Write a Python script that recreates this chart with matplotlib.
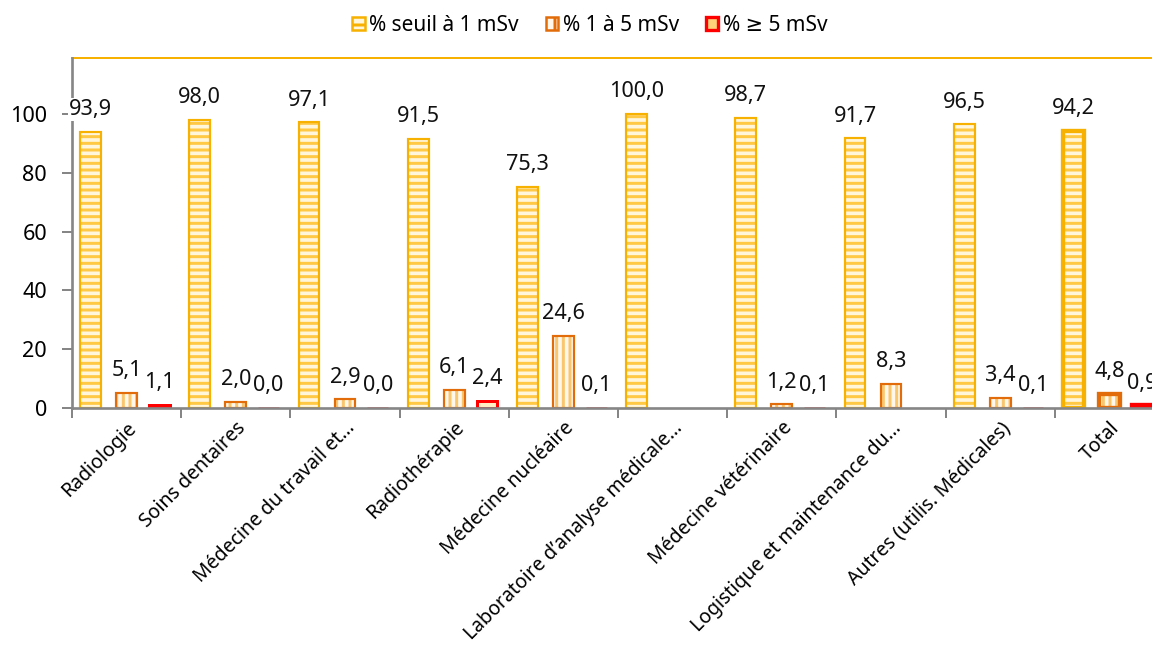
import matplotlib
matplotlib.use("Agg")
import matplotlib.pyplot as plt
from matplotlib.patches import Patch
import numpy as np

categories = ["Radiologie", "Soins dentaires", "Médecine du travail et...",
              "Radiothérapie", "Médecine nucléaire", "Laboratoire d’analyse médicale...",
              "Médecine vétérinaire", "Logistique et maintenance du...",
              "Autres (utilis. Médicales)", "Total"]
seuil_1 = [93.9, 98.0, 97.1, 91.5, 75.3, 100.0, 98.7, 91.7, 96.5, 94.2]
de_1_a_5 = [5.1, 2.0, 2.9, 6.1, 24.6, None, 1.2, 8.3, 3.4, 4.8]
sup_5 = [1.1, 0.0, 0.0, 2.4, 0.1, None, 0.1, None, 0.1, 0.9]
series_names = ["% seuil à 1 mSv", "% 1 à 5 mSv", "% ≥ 5 mSv"]
yticks = [0, 20, 40, 60, 80, 100]

plt.rcParams["font.family"] = ["Noto Sans", "DejaVu Sans"]
plt.rcParams["hatch.linewidth"] = 1.8

fig = plt.figure(figsize=(1152 / 120, 647 / 120), dpi=120)
ax = fig.add_axes([72 / 1152, 239 / 647, (1164 - 72) / 1152, 350 / 647])

x = np.arange(len(categories))
width = 0.19
offsets = [-0.33, 0.0, 0.30]
edge_cols = ["#F7B100", "#E36C0A", "#FF0000"]
stripe_cols = ["#FFC845", "#F9C66E", None]
face_cols = ["#FFF6DC", "#FFF8EA", "#FFEFC2"]
hatches = ["---", "|||", None]
all_series = [seuil_1, de_1_a_5, sup_5]

for si, vals in enumerate(all_series):
    for i, v in enumerate(vals):
        if v is None:
            continue
        xpos = x[i] + offsets[si]
        lw = 2.6 if i == len(categories) - 1 else 1.3
        if hatches[si]:
            ax.bar(xpos, v, width, facecolor=face_cols[si], edgecolor=stripe_cols[si],
                   hatch=hatches[si], linewidth=0, zorder=2)
            ax.bar(xpos, v, width, fill=False, edgecolor=edge_cols[si], linewidth=lw, zorder=3)
        else:
            ax.bar(xpos, v, width, facecolor=face_cols[si] if v > 2 else edge_cols[si],
                   edgecolor=edge_cols[si] if v > 0.5 else "#FF7070",
                   linewidth=max(lw, 1.8), zorder=3)
        ax.annotate(f"{v:.1f}".replace(".", ","), (xpos, v), xytext=(0, 7),
                    textcoords="offset points", ha="center", va="bottom",
                    fontsize=13, color="#111111", zorder=5,
                    bbox=dict(facecolor="white", edgecolor="none", pad=0.6))

ax.set_xlim(-0.5, len(categories) - 0.5)
ax.set_ylim(0, 119)
ax.set_yticks(yticks)
ax.set_yticklabels([str(t) for t in yticks], fontsize=13)
ax.tick_params(axis="y", length=6, width=1.2, color="#868686", pad=9)

ax.set_xticks(x)
ax.set_xticklabels(categories, rotation=45, ha="right", rotation_mode="anchor", fontsize=11.7)
ax.tick_params(axis="x", which="major", length=0, pad=6)
ax.set_xticks(np.arange(-0.5, len(categories), 1.0), minor=True)
ax.tick_params(axis="x", which="minor", length=6, width=1.2, color="#868686")

for s in ["left", "bottom"]:
    ax.spines[s].set_color("#868686")
    ax.spines[s].set_linewidth(1.6)
    ax.spines[s].set_zorder(4)
for s in ["top", "right"]:
    ax.spines[s].set_color("#F7B100")
    ax.spines[s].set_linewidth(1.2)

handles = [Patch(facecolor=face_cols[0], edgecolor=edge_cols[0], hatch="--", linewidth=1.5),
           Patch(facecolor=face_cols[1], edgecolor=edge_cols[1], hatch="||", linewidth=1.5),
           Patch(facecolor="#FFD27A", edgecolor=edge_cols[2], linewidth=2)]
fig.legend(handles, series_names, loc="center", bbox_to_anchor=(0.512, 0.961), ncol=3,
           frameon=False, fontsize=12.5, handlelength=0.6, handleheight=0.6,
           handletextpad=0.2, columnspacing=1.3)

fig.savefig("out.png", dpi=120)
